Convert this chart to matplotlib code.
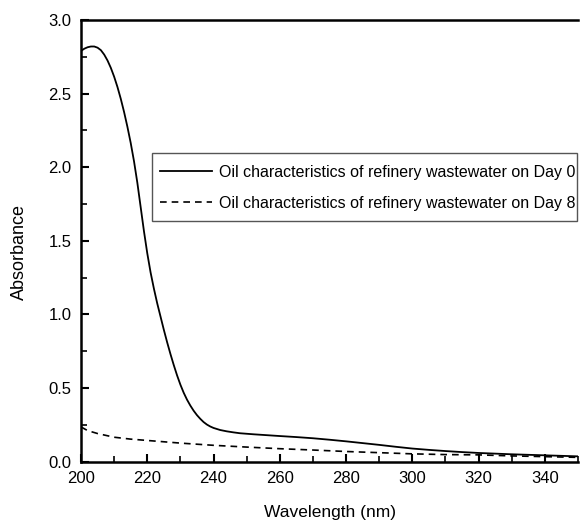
import numpy as np
import matplotlib.pyplot as plt
from matplotlib.ticker import MultipleLocator
from matplotlib.patches import Rectangle

plt.rcParams['font.family'] = ['Liberation Sans', 'DejaVu Sans']

# data
wl_day0 = [200, 201, 202, 203, 204, 205, 206, 207, 208, 209, 210, 211, 212, 213,
           214, 215, 216, 217, 218, 219, 220, 221, 222, 223, 224, 225, 226, 227,
           228, 229, 230, 231, 232, 233, 234, 235, 236, 237, 238, 239, 240, 242,
           244, 246, 248, 252, 256, 260, 265, 270, 275, 280, 285, 290, 295, 300,
           305, 310, 315, 320, 330, 340, 350]
abs_day0 = [2.790, 2.805, 2.815, 2.820, 2.820, 2.812, 2.795, 2.765, 2.725, 2.675,
            2.615, 2.545, 2.465, 2.375, 2.275, 2.165, 2.040, 1.895, 1.730, 1.565,
            1.415, 1.285, 1.175, 1.075, 0.985, 0.895, 0.810, 0.730, 0.655, 0.585,
            0.522, 0.467, 0.420, 0.380, 0.345, 0.315, 0.290, 0.268, 0.251, 0.238,
            0.228, 0.214, 0.205, 0.198, 0.192, 0.185, 0.179, 0.173, 0.166, 0.158,
            0.148, 0.137, 0.125, 0.113, 0.100, 0.088, 0.079, 0.071, 0.064, 0.058,
            0.049, 0.042, 0.035]

wl_day8 = [200, 202, 205, 210, 215, 220, 230, 240, 250, 260, 270, 280, 290, 300,
           310, 320, 330, 340, 350]
abs_day8 = [0.235, 0.21, 0.19, 0.165, 0.152, 0.143, 0.125, 0.11, 0.098, 0.087,
            0.078, 0.068, 0.06, 0.052, 0.047, 0.045, 0.038, 0.033, 0.028]

label0 = 'Oil characteristics of refinery wastewater on Day 0'
label8 = 'Oil characteristics of refinery wastewater on Day 8'

W, H = 580, 521
fig = plt.figure(figsize=(W / 100, H / 100), dpi=100)
ax = fig.add_axes([81/W, 0.1142, 497/W, 0.8474])

ax.plot(wl_day0, abs_day0, color='black', lw=1.3, label=label0)
ax.plot(wl_day8, abs_day8, color='black', lw=1.2, linestyle=(0, (4, 3)), label=label8)

ax.set_xlim(200, 350)
ax.set_ylim(0, 3.0)
ax.xaxis.set_major_locator(MultipleLocator(20))
ax.xaxis.set_minor_locator(MultipleLocator(10))
ax.yaxis.set_major_locator(MultipleLocator(0.5))
ax.yaxis.set_minor_locator(MultipleLocator(0.25))
ax.yaxis.set_major_formatter(plt.FormatStrFormatter('%.1f'))
ax.tick_params(which='major', direction='in', length=6, width=1.5, labelsize=12,
               top=False, right=False)
ax.tick_params(axis='x', which='major', pad=7)
ax.tick_params(axis='y', which='major', pad=7)
ax.tick_params(which='minor', direction='in', length=4, width=1.2, top=False, right=False)

ax.spines['right'].set_visible(False)
for s in ['left', 'bottom', 'top']:
    ax.spines[s].set_linewidth(1.8)

ax.set_xlabel('Wavelength (nm)', fontsize=12.5, va='center')
ax.set_ylabel('Absorbance', fontsize=13, va='center')
ax.xaxis.set_label_coords(0.5, -0.116)
ax.yaxis.set_label_coords(-0.123, 0.474)

# legend box drawn separately so its padding matches the original
box = Rectangle((152/W, 1 - 221/H), 425/W, 68/H, transform=fig.transFigure,
                facecolor='white', edgecolor='#555555', lw=1.0, zorder=3, clip_on=False)
ax.add_patch(box)
leg = ax.legend(loc='center', bbox_to_anchor=(368/W, 1 - 188/H),
                bbox_transform=fig.transFigure, fontsize=11.5, frameon=False,
                handlelength=3.25, handletextpad=0.45, borderpad=0,
                labelspacing=1.0, borderaxespad=0)
leg.set_zorder(4)

fig.savefig('out.png', dpi=100)
